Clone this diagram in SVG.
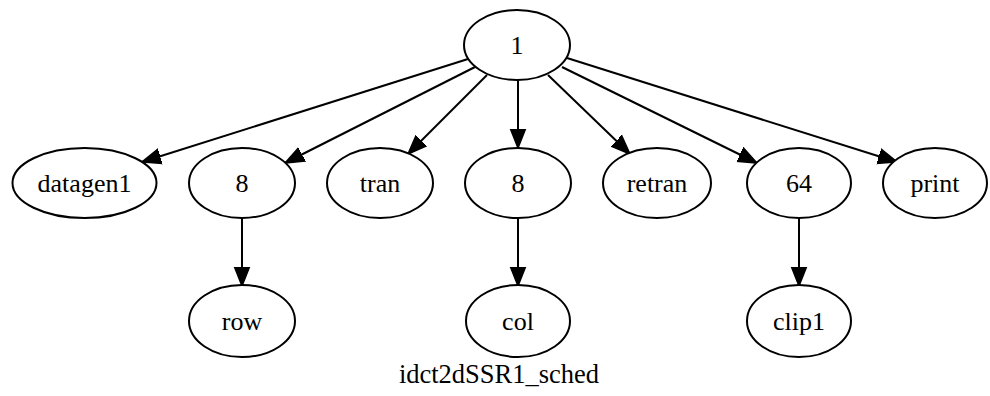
<svg xmlns="http://www.w3.org/2000/svg" width="990" height="396" viewBox="0 0 990 396">
<style>
.node ellipse{fill:#fff;stroke:#000;stroke-width:2}
.node text{font-family:"Liberation Serif","Times New Roman",serif;font-size:26px;fill:#000;text-anchor:middle}
.edges line{stroke:#000;stroke-width:2}
.title{font-family:"Liberation Serif","Times New Roman",serif;font-size:26.5px;fill:#000;text-anchor:middle}
</style>
<defs>
<marker id="arr" viewBox="0 -9 21 18" refX="19" refY="0" markerWidth="21" markerHeight="18" markerUnits="userSpaceOnUse" orient="auto">
<path d="M0,-7.5 L19,0 L0,7.5 z" fill="#000" stroke="#000" stroke-width="1.5"/>
</marker>
</defs>
<rect width="990" height="396" fill="#fff"/>
<g id="edges" class="edges">
<line x1="468" y1="59" x2="142" y2="162" marker-end="url(#arr)"/>
<line x1="475" y1="67" x2="285" y2="163" marker-end="url(#arr)"/>
<line x1="487" y1="75" x2="408" y2="154" marker-end="url(#arr)"/>
<line x1="518" y1="80" x2="518" y2="148" marker-end="url(#arr)"/>
<line x1="548" y1="75" x2="630" y2="154" marker-end="url(#arr)"/>
<line x1="562" y1="67" x2="757" y2="163" marker-end="url(#arr)"/>
<line x1="567" y1="58" x2="897" y2="162" marker-end="url(#arr)"/>
<line x1="242" y1="218" x2="242" y2="286" marker-end="url(#arr)"/>
<line x1="518" y1="218" x2="518" y2="286" marker-end="url(#arr)"/>
<line x1="799" y1="218" x2="799" y2="286" marker-end="url(#arr)"/>
</g>
<g id="n1" class="node"><ellipse cx="517" cy="45" rx="53" ry="35"/><text x="517" y="54">1</text></g>
<g id="datagen1" class="node"><ellipse cx="84.5" cy="183" rx="72" ry="35"/><text x="84.5" y="192">datagen1</text></g>
<g id="n8a" class="node"><ellipse cx="242" cy="183" rx="53" ry="35"/><text x="242" y="192">8</text></g>
<g id="tran" class="node"><ellipse cx="380" cy="183" rx="53" ry="35"/><text x="380" y="192">tran</text></g>
<g id="n8b" class="node"><ellipse cx="518" cy="183" rx="53" ry="35"/><text x="518" y="192">8</text></g>
<g id="retran" class="node"><ellipse cx="657" cy="183" rx="54" ry="35"/><text x="657" y="192">retran</text></g>
<g id="n64" class="node"><ellipse cx="799" cy="183" rx="52" ry="35"/><text x="799" y="192">64</text></g>
<g id="print" class="node"><ellipse cx="935" cy="183" rx="52" ry="35"/><text x="935" y="192">print</text></g>
<g id="row" class="node"><ellipse cx="242" cy="321" rx="53" ry="36"/><text x="242" y="330">row</text></g>
<g id="col" class="node"><ellipse cx="518" cy="321" rx="52" ry="36"/><text x="518" y="330">col</text></g>
<g id="clip1" class="node"><ellipse cx="799" cy="321" rx="52" ry="36"/><text x="799" y="330">clip1</text></g>
<text class="title" x="499" y="383">idct2dSSR1_sched</text>
</svg>
